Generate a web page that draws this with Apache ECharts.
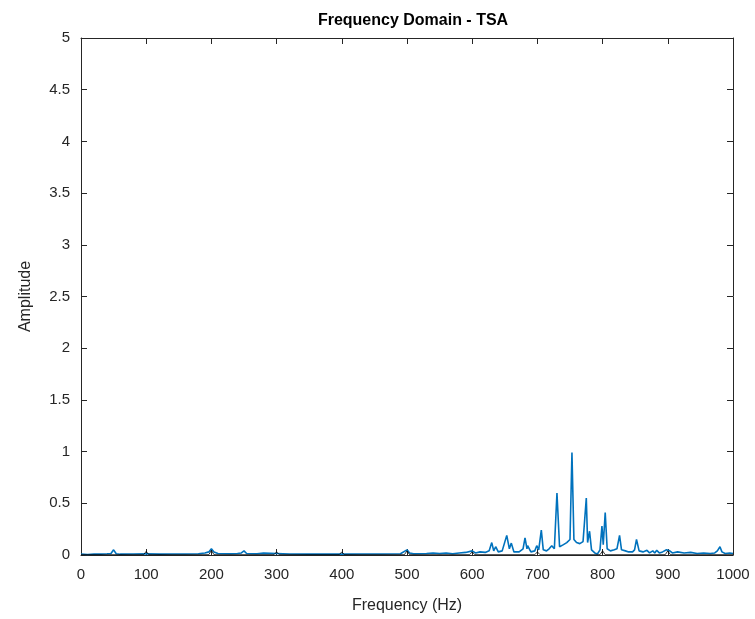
<!DOCTYPE html>
<html><head><meta charset="utf-8">
<script src="https://cdn.jsdelivr.net/npm/echarts@6/dist/echarts.min.js"></script>
<style>html,body{margin:0;padding:0;background:#fff}#c{width:755px;height:619px}</style>
</head><body><div id="c"></div>
<script>
const titleText = 'Frequency Domain - TSA';
const xName = 'Frequency (Hz)';
const yName = 'Amplitude';
const xTicks = [0,100,200,300,400,500,600,700,800,900,1000];
const yTicks = [0,0.5,1,1.5,2,2.5,3,3.5,4,4.5,5];

// Blue spectrum (TSA)
const tsaFreq = [0,10,20,30,40,46,50,54,60,80,100,120,140,160,180,190,196,200,204,210,230,240,246,250,254,270,280,300,320,350,380,400,430,460,490,500,504,510,530,540,550,560,570,580,590,600,605,612,620,626,630,633,636,640,646,653,657,660,664,672,678,681,684,685,690,696,699,702,706,709,714,718,722,726,730,734,740,745,750,753,756,760,765,770,775,777,780,783,788,792,796,799,801,804,807,812,818,822,826,829,835,840,846,849,852,856,862,868,872,877,880,883,887,892,898,903,907,915,925,935,945,955,965,972,976,980,983,988,995,1000];
const tsaAmp  = [0.01,0.005,0.01,0.008,0.012,0.015,0.05,0.012,0.008,0.01,0.012,0.008,0.01,0.01,0.012,0.02,0.03,0.06,0.03,0.015,0.012,0.015,0.02,0.04,0.015,0.012,0.018,0.015,0.01,0.008,0.01,0.008,0.01,0.01,0.012,0.05,0.02,0.012,0.015,0.02,0.015,0.02,0.012,0.02,0.025,0.04,0.02,0.03,0.025,0.04,0.12,0.04,0.08,0.03,0.04,0.19,0.06,0.115,0.03,0.03,0.06,0.165,0.06,0.09,0.03,0.04,0.09,0.05,0.24,0.05,0.04,0.06,0.09,0.06,0.60,0.08,0.10,0.12,0.15,0.99,0.15,0.12,0.11,0.13,0.55,0.12,0.23,0.05,0.02,0.01,0.05,0.28,0.10,0.41,0.06,0.04,0.05,0.06,0.19,0.05,0.04,0.03,0.03,0.05,0.15,0.04,0.03,0.045,0.02,0.04,0.02,0.045,0.02,0.03,0.05,0.04,0.02,0.03,0.02,0.025,0.015,0.02,0.015,0.02,0.04,0.08,0.03,0.015,0.02,0.015];

// Black spectrum (harmonics)
const refFreq = [0,96,100,104,196,200,204,296,300,304,396,400,404,496,500,504,596,600,604,696,700,704,796,800,804,896,900,904,1000];
const refAmp  = [0.003,0.003,0.035,0.003,0.003,0.045,0.003,0.003,0.03,0.003,0.003,0.03,0.003,0.003,0.04,0.003,0.003,0.03,0.003,0.003,0.03,0.003,0.003,0.04,0.003,0.003,0.04,0.003,0.003];

const tsaData = tsaFreq.map((f,i)=>[f,tsaAmp[i]]);
const refData = refFreq.map((f,i)=>[f,refAmp[i]]);

const txt = '#262626';
const font = 'Liberation Sans, Arial, Helvetica, sans-serif';
const chart = echarts.init(document.getElementById('c'));
const axisCommon = {
  axisLine:{show:true,onZero:false,lineStyle:{color:txt,width:1}},
  axisTick:{show:true,inside:true,length:6,lineStyle:{color:txt}},
  splitLine:{show:false}
};
chart.setOption({
  animation:false,
  backgroundColor:'#fff',
  title:{text:titleText,left:408,top:8,textAlign:'center',
    textStyle:{fontFamily:font,fontSize:16,fontWeight:'bold',color:'#000'}},
  grid:{left:81,right:22,top:38,bottom:64,containLabel:false},
  xAxis:[
    Object.assign({type:'value',min:xTicks[0],max:xTicks[xTicks.length-1],interval:100,position:'bottom',
      name:xName,nameLocation:'middle',nameGap:43,
      nameTextStyle:{fontFamily:font,fontSize:16,color:txt},
      axisLabel:{fontFamily:font,fontSize:15,color:txt,margin:12,formatter:v=>String(v)}},axisCommon),
    Object.assign({type:'value',min:0,max:1000,interval:100,position:'top',axisLabel:{show:false}},axisCommon)
  ],
  yAxis:[
    Object.assign({type:'value',min:yTicks[0],max:yTicks[yTicks.length-1],interval:0.5,position:'left',
      name:yName,nameLocation:'middle',nameGap:47,
      nameTextStyle:{fontFamily:font,fontSize:16,color:txt},
      axisLabel:{fontFamily:font,fontSize:15,color:txt,margin:11,formatter:v=>String(v)}},axisCommon),
    Object.assign({type:'value',min:0,max:5,interval:0.5,position:'right',axisLabel:{show:false}},axisCommon)
  ],
  series:[
    {type:'line',data:tsaData,showSymbol:false,symbol:'none',
      lineStyle:{color:'#0072BD',width:1.6},itemStyle:{color:'#0072BD'},z:2},
    {type:'line',data:refData,showSymbol:false,symbol:'none',
      lineStyle:{color:'#000000',width:0.8},itemStyle:{color:'#000'},z:3}
  ]
});
</script></body></html>
